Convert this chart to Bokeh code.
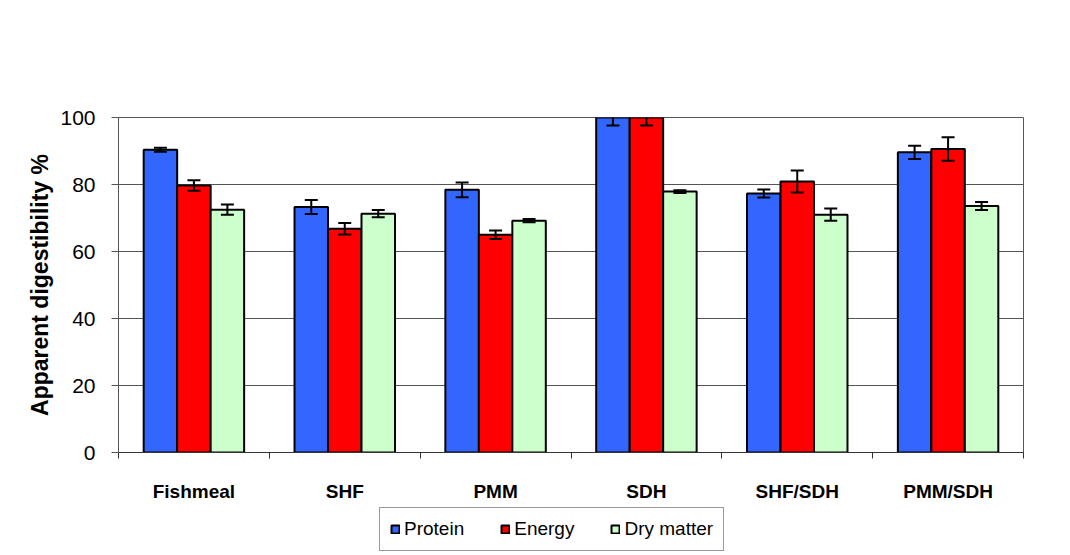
from bokeh.plotting import figure
from bokeh.layouts import column
from bokeh.models import Range1d, FixedTicker, ColumnDataSource, Legend, LegendItem
from bokeh.embed import file_html
from bokeh.resources import INLINE

categories = ["Fishmeal", "SHF", "PMM", "SDH", "SHF/SDH", "PMM/SDH"]
series_names = ["Protein", "Energy", "Dry matter"]
protein = [90.4, 73.3, 78.4, 100.0, 77.3, 89.6]
protein_err = [0.6, 2.1, 2.2, 2.4, 1.2, 2.0]
energy = [79.7, 66.8, 65.0, 100.0, 80.9, 90.6]
energy_err = [1.6, 1.7, 1.3, 2.4, 3.3, 3.5]
dry_matter = [72.5, 71.3, 69.2, 77.9, 71.0, 73.6]
dry_matter_err = [1.5, 1.1, 0.5, 0.4, 1.8, 1.2]
y_ticks = [0, 20, 40, 60, 80, 100]

colors = ["#3366FF", "#FF0000", "#CCFFCC"]
FONT = "Liberation Sans"

p = figure(width=1070, height=505, output_backend="svg", toolbar_location=None,
           x_range=Range1d(0, len(categories)), y_range=Range1d(0, 100),
           min_border_left=118, min_border_top=117, min_border_right=47,
           min_border_bottom=53)
p.background_fill_color = "white"
p.border_fill_color = "white"
p.outline_line_color = "#555555"
p.outline_line_width = 1

# axes
p.yaxis.ticker = FixedTicker(ticks=y_ticks)
p.yaxis.major_tick_out = 7
p.yaxis.major_tick_in = 0
p.yaxis.minor_tick_line_color = None
p.yaxis.axis_line_color = "#555555"
p.yaxis.major_tick_line_color = "#555555"
p.yaxis.major_label_text_font = FONT
p.yaxis.major_label_text_font_size = "21px"
p.yaxis.major_label_text_color = "black"
p.yaxis.major_label_standoff = 16
p.yaxis.axis_label = "Apparent digestibility %"
p.yaxis.axis_label_text_font = FONT
p.yaxis.axis_label_text_font_size = "23px"
p.yaxis.axis_label_text_font_style = "bold"
p.yaxis.axis_label_text_color = "black"
p.yaxis.axis_label_standoff = 4

centers = [i + 0.5 for i in range(len(categories))]
p.xaxis.ticker = FixedTicker(ticks=centers, minor_ticks=list(range(len(categories) + 1)))
p.xaxis.major_label_overrides = {c: name for c, name in zip(centers, categories)}
p.xaxis.major_tick_line_color = None
p.xaxis.major_tick_out = 0
p.xaxis.major_tick_in = 0
p.xaxis.minor_tick_out = 6
p.xaxis.minor_tick_in = 0
p.xaxis.minor_tick_line_color = "#333333"
p.xaxis.axis_line_color = "#333333"
p.xaxis.major_label_text_font = FONT
p.xaxis.major_label_text_font_size = "19px"
p.xaxis.major_label_text_font_style = "bold"
p.xaxis.major_label_text_color = "black"
p.xaxis.major_label_standoff = 22

p.xgrid.grid_line_color = None
p.ygrid.ticker = FixedTicker(ticks=y_ticks)
p.ygrid.grid_line_color = "#555555"
p.ygrid.grid_line_width = 1

bar_w = 0.222
cap_half = 0.043
offsets = [-bar_w, 0.0, bar_w]
all_vals = [protein, energy, dry_matter]
all_errs = [protein_err, energy_err, dry_matter_err]

for name, vals, errs, off, col in zip(series_names, all_vals, all_errs, offsets, colors):
    xs = [c + off for c in centers]
    src = ColumnDataSource(dict(
        x=xs, top=vals,
        lo=[v - e for v, e in zip(vals, errs)],
        hi=[v + e for v, e in zip(vals, errs)],
        xl=[x - cap_half for x in xs], xr=[x + cap_half for x in xs]))
    p.vbar(x="x", top="top", width=bar_w, bottom=0, source=src,
           fill_color=col, line_color="black", line_width=2)
    p.segment(x0="x", y0="lo", x1="x", y1="hi", source=src, line_color="black", line_width=2)
    p.segment(x0="xl", y0="lo", x1="xr", y1="lo", source=src, line_color="black", line_width=2)
    p.segment(x0="xl", y0="hi", x1="xr", y1="hi", source=src, line_color="black", line_width=2)

# legend strip below the chart (its frame is aligned with the chart's frame)
lg = figure(width=1070, height=50, output_backend="svg", toolbar_location=None,
            x_range=Range1d(0, 1), y_range=Range1d(0, 1),
            x_axis_location=None, y_axis_location=None, min_border=0)
lg.grid.visible = False
lg.outline_line_color = None
lg.background_fill_color = "white"
lg.border_fill_color = "white"

items = []
for name, col in zip(series_names, colors):
    # zero-size proxy bar, only used to draw the legend swatch
    r = lg.vbar(x=[0.5], top=[0], bottom=0, width=0, fill_color=col,
                line_color="black", line_width=2)
    items.append(LegendItem(label=name, renderers=[r]))

legend = Legend(items=items, orientation="horizontal", location=(261, 4),
                glyph_width=10, glyph_height=10, label_standoff=4, spacing=36,
                padding=10, margin=0, border_line_color="#333333", border_line_width=1,
                label_text_font=FONT, label_text_font_size="19px",
                label_text_color="black", background_fill_alpha=1)
lg.add_layout(legend, "center")

layout = column(p, lg, spacing=0)
open("out.html", "w").write(file_html(layout, INLINE))
